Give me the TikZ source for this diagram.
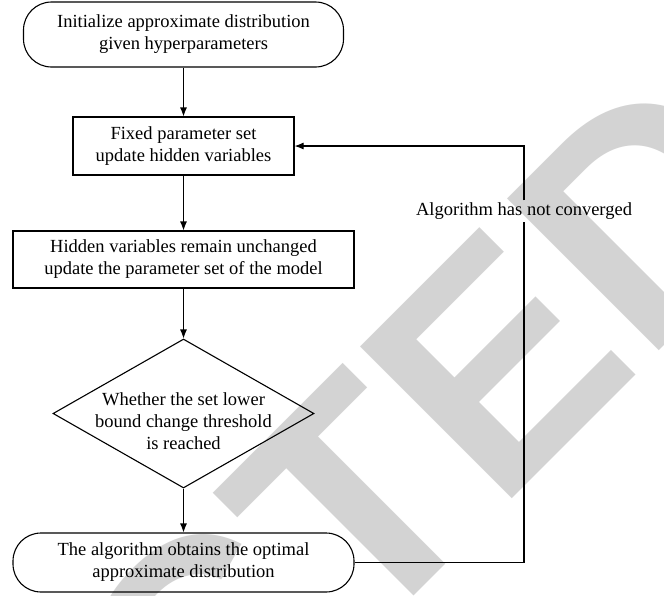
\documentclass[tikz,border=0pt]{standalone}
\usepackage{fontspec}
\setmainfont{Liberation Serif}
\newfontfamily\wmfont{Liberation Sans}
\usetikzlibrary{shapes.geometric,arrows.meta}
\definecolor{wmgray}{RGB}{211,211,211}
\newcommand\txtfont{\fontsize{18.5}{22}\selectfont}
\begin{document}
\begin{tikzpicture}[x=1pt,y=-1pt,
  base/.style={draw, line width=1.1pt, inner sep=0pt, align=center, font=\txtfont},
  term/.style={base, rounded corners=28pt},
  proc/.style={base},
  dec/.style={base, diamond},
  arr/.style={-{Latex[length=9pt,width=7pt]}, line width=1.1pt},
  conn/.style={line width=1.1pt}]
\useasboundingbox (0,0) rectangle (664,595);
\fill[white] (0,0) rectangle (664,595);
% watermark
\begin{scope}
\clip (0,0) rectangle (664,595);
\node[rotate=45, anchor=base west, inner sep=0pt, text=wmgray,
      font=\wmfont\bfseries\fontsize{312}{312}\selectfont] (wm) at (-557,1567) {RETRACTED};
\end{scope}
% nodes
\node[term, minimum width=320pt, minimum height=65pt] (t1) at (183.5,34.5)
  {Initialize approximate distribution\\given hyperparameters};
\node[proc, minimum width=221pt, minimum height=58pt] (b2) at (183.5,146)
  {Fixed parameter set\\update hidden variables};
\node[proc, minimum width=341pt, minimum height=57pt] (b3) at (183.5,259.5)
  {Hidden variables remain unchanged\\update the parameter set of the model};
\node[dec, minimum width=261pt, minimum height=149pt,
  label={[align=center, font=\txtfont, yshift=-8pt]center:Whether the set lower\\bound change threshold\\is reached}] (d) at (183.5,413.5) {};
\node[term, minimum width=341pt, minimum height=59pt] (t2) at (183.5,562.5)
  {The algorithm obtains the optimal\\approximate distribution};
% feedback
\coordinate (c1) at (524,562.5);
\coordinate (c2) at (524,146);
\node[font=\txtfont, inner sep=2pt] (lbl) at (524,211) {Algorithm has not converged};
% connectors
\draw[arr] (t1.south) -- (b2.north);
\draw[arr] (b2.south) -- (b3.north);
\draw[arr] (b3.south) -- (d.north);
\draw[arr] (d.south) -- (t2.north);
\draw[conn] (t2.east) -- (c1) -- (lbl.south);
\draw[arr] (lbl.north) -- (c2) -- (b2.east);
\end{tikzpicture}
\end{document}
